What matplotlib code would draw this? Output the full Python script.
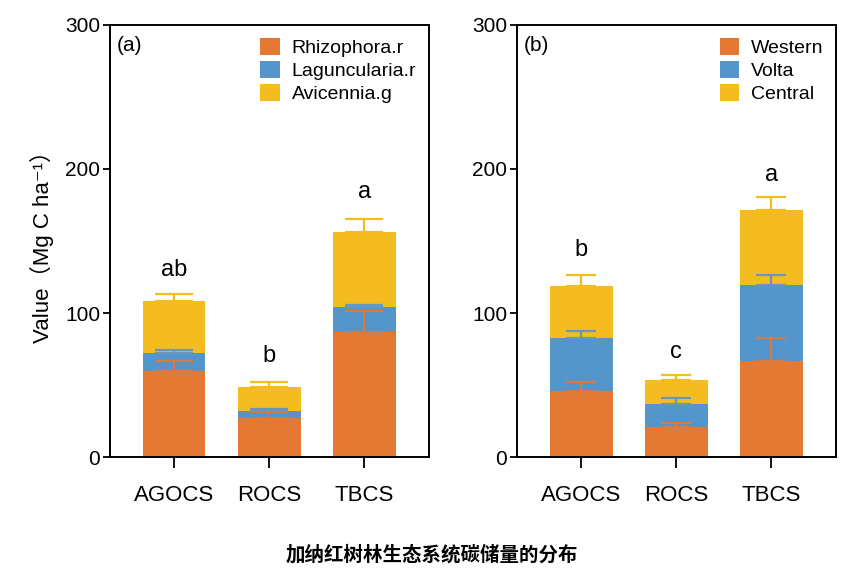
import numpy as np
import matplotlib.pyplot as plt

plt.rcParams['font.family'] = ['Liberation Sans', 'Noto Sans CJK SC', 'DejaVu Sans']

categories = ['AGOCS', 'ROCS', 'TBCS']

# panel (a): species
species = ['Rhizophora.r', 'Laguncularia.r', 'Avicennia.g']
a_vals = [[60, 27, 86.5], [12, 5, 17.5], [36, 16.5, 52.5]]
a_errs = [[7, 4.5, 15], [2, 1.3, 1.6], [5, 3.5, 9]]
a_letters = ['ab', 'b', 'a']
a_letter_y = [130, 70, 184]

# panel (b): regions
regions = ['Western', 'Volta', 'Central']
b_vals = [[46, 21, 67], [36.5, 16, 52.5], [36, 16.5, 52]]
b_errs = [[6, 2.7, 15.8], [5.2, 4, 7], [7.7, 3.2, 9.3]]
b_letters = ['b', 'c', 'a']
b_letter_y = [144, 73, 196]

colors = ['#E37932', '#5495CB', '#F4BC1E']
err_colors = ['#D87A45', '#6A96BC', '#F4BC1E']


def draw_panel(ax, vals, errs, names, letters, letter_y, tag, capsize):
    x = np.arange(len(categories))
    bottom = np.zeros(len(categories))
    for v, e, name, c, ec in zip(vals, errs, names, colors, err_colors):
        v = np.array(v, dtype=float)
        ax.bar(x, v, 0.66, bottom=bottom, color=c, label=name, zorder=2)
        top = bottom + v
        ax.errorbar(x, top, yerr=[np.zeros(len(x)), e], fmt='none',
                    ecolor=ec, elinewidth=1.6, capsize=capsize, capthick=1.6, zorder=3)
        bottom = top
    for xi, lt, ly in zip(x, letters, letter_y):
        ax.text(xi, ly, lt, ha='center', va='center', fontsize=17)
    ax.set_xlim(-0.675, 2.68)
    ax.set_ylim(0, 300)
    ax.set_yticks([0, 100, 200, 300])
    ax.set_xticks(x)
    ax.set_xticklabels(categories)
    ax.tick_params(axis='y', direction='out', length=5, width=1.3, labelsize=15, pad=2)
    ax.tick_params(axis='x', direction='out', length=8, width=1.3, labelsize=16, pad=12)
    for s in ax.spines.values():
        s.set_linewidth(1.4)
    ax.text(0.02, 0.975, tag, transform=ax.transAxes, ha='left', va='top', fontsize=15)
    ax.legend(loc='upper right', frameon=False, fontsize=14, handlelength=1.0,
              handleheight=1.0, handletextpad=0.6, labelspacing=0.2,
              borderaxespad=0.25, bbox_to_anchor=(1.0, 1.0))


fig = plt.figure(figsize=(8.64, 5.8), dpi=100)
ax1 = fig.add_axes([0.1273, 0.212, 0.369, 0.745])
ax2 = fig.add_axes([0.5984, 0.212, 0.369, 0.745])

draw_panel(ax1, a_vals, a_errs, species, a_letters, a_letter_y, '(a)', 14)
draw_panel(ax2, b_vals, b_errs, regions, b_letters, b_letter_y, '(b)', 11)

ax1.set_ylabel('Value（Mg C ha⁻¹）', fontsize=16, labelpad=8)

fig.text(0.5, 0.043, '加纳红树林生态系统碳储量的分布', ha='center', va='center',
         fontsize=14, fontweight='bold', family=['Noto Sans CJK SC', 'DejaVu Sans'])

fig.savefig('out.png', dpi=100)
